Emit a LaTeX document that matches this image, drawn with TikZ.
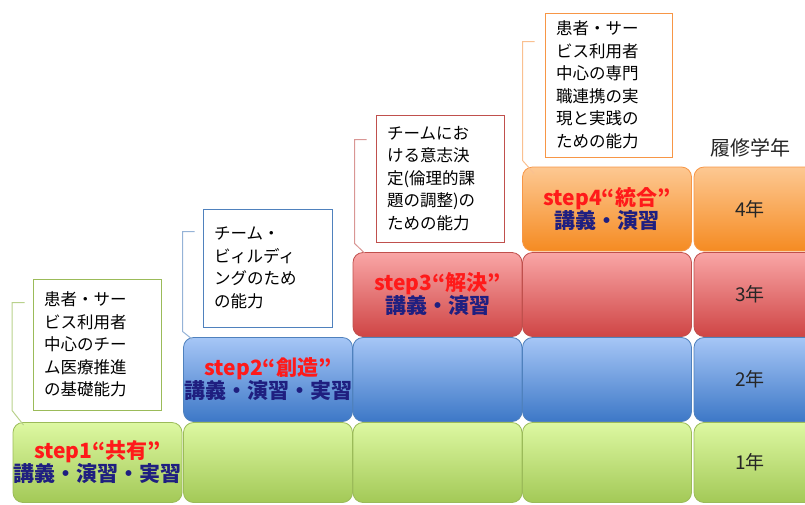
\documentclass[tikz,border=0pt]{standalone}
\usepackage{fontspec}
\setmainfont{Noto Sans CJK JP}
\usetikzlibrary{calc}
\definecolor{gtop}{HTML}{DDF8A2}
\definecolor{gbot}{HTML}{A3C957}
\definecolor{gbrd}{HTML}{9BBB59}
\definecolor{gline}{HTML}{B9D18C}
\definecolor{btop}{HTML}{A6C6F6}
\definecolor{bbot}{HTML}{3D78C7}
\definecolor{bbrd}{HTML}{4F81BD}
\definecolor{bline}{HTML}{95B3D7}
\definecolor{rtop}{HTML}{F9A6A6}
\definecolor{rbot}{HTML}{CF4545}
\definecolor{rbrd}{HTML}{C0504D}
\definecolor{rline}{HTML}{D99694}
\definecolor{otop}{HTML}{FDC892}
\definecolor{obot}{HTML}{F58B22}
\definecolor{obrd}{HTML}{F79646}
\definecolor{oline}{HTML}{FAC090}
\definecolor{stepred}{HTML}{FF1A1A}
\definecolor{navy}{HTML}{1F1F80}
\newcommand{\steptxt}[2]{{\color{stepred}#1}\\{\color{navy}#2}}
\begin{document}
\begin{tikzpicture}[x=1pt,y=-1pt,
  cell/.style={rounded corners=10pt, line width=0.8pt, minimum width=169pt, minimum height=84pt, inner sep=0pt, align=center,
    font=\fontsize{21}{23}\selectfont\bfseries},
  gcell/.style={cell, draw=gbrd, top color=gtop, bottom color=gbot},
  bcell/.style={cell, draw=bbrd, top color=btop, bottom color=bbot},
  rcell/.style={cell, draw=rbrd, top color=rtop, bottom color=rbot},
  ocell/.style={cell, draw=obrd, top color=otop, bottom color=obot},
  lastcol/.style={minimum width=130pt},
  firstrow/.style={minimum height=80pt},
  callout/.style={fill=white, line width=0.9pt, inner xsep=11pt, inner ysep=0pt, text width=106pt, align=left,
    font=\fontsize{16.5}{22.5}\selectfont},
  conn/.style={line width=1pt},
  yearlbl/.style={font=\fontsize{19}{22}\selectfont, text=black!85},
]
\useasboundingbox (0,0) rectangle (805,504);
\clip (0,0) rectangle (805,504);
% row 1 (green)
\node[gcell, firstrow] (c1r1) at (97.5,462.5) {\steptxt{step1“共有”}{講義・演習・実習}};
\node[gcell, firstrow] (c2r1) at (268,462.5) {};
\node[gcell, firstrow] (c3r1) at (437.5,462.5) {};
\node[gcell, firstrow] (c4r1) at (607,462.5) {};
\node[gcell, firstrow, lastcol] (c5r1) at (759,462.5) {};
% row 2 (blue)
\node[bcell] (c2r2) at (268,379.5) {\steptxt{step2“創造”}{講義・演習・実習}};
\node[bcell] (c3r2) at (437.5,379.5) {};
\node[bcell] (c4r2) at (607,379.5) {};
\node[bcell, lastcol] (c5r2) at (759,379.5) {};
% row 3 (red)
\node[rcell] (c3r3) at (437.5,294.5) {\steptxt{step3“解決”}{講義・演習}};
\node[rcell] (c4r3) at (607,294.5) {};
\node[rcell, lastcol] (c5r3) at (759,294.5) {};
% row 4 (orange)
\node[ocell] (c4r4) at (607,209) {\steptxt{step4“統合”}{講義・演習}};
\node[ocell, lastcol] (c5r4) at (759,209) {};
% year labels
\node[yearlbl] (y1) at (750,462.5) {1年};
\node[yearlbl] (y2) at (750,379.5) {2年};
\node[yearlbl] (y3) at (750,294.5) {3年};
\node[yearlbl] (y4) at (750,209) {4年};
\node[font=\fontsize{20}{22}\selectfont, text=black!85] (hdr) at (750,148) {履修学年};
% callouts
\node[callout, draw=gbrd, minimum height=131pt] (t1) at (97,344.5)
  {患者・サー\\ビス利用者\\中心のチー\\ム医療推進\\の基礎能力};
\node[callout, draw=bbrd, minimum height=118pt, text width=107pt] (t2) at (267.5,268)
  {チーム・\\ビィルディ\\ングのため\\の能力};
\node[callout, draw=rbrd, minimum height=127pt] (t3) at (440,178.5)
  {チームにお\\ける意志決\\定(倫理的課\\題の調整)の\\ための能力};
\node[callout, draw=obrd, minimum height=144pt, text width=105pt] (t4) at (608.5,85)
  {患者・サー\\ビス利用者\\中心の専門\\職連携の実\\現と実践の\\ための能力};
% connectors
\draw[conn, gline] ($(t1.north west)+(-8,24)$) -- ($(t1.north west)+(-20.5,24)$)
  -- ($(t1.south west)+(-20.5,0)$) -- ($(c1r1.north west)+(11,3)$);
\draw[conn, bline] ($(t2.north west)+(-8,23)$) -- ($(t2.north west)+(-20,23)$)
  -- ($(t2.south west)+(-20,4)$) -- ($(c2r2.north west)+(9,2)$);
\draw[conn, rline] ($(t3.north west)+(-9,25)$) -- ($(t3.north west)+(-21,25)$)
  -- ($(t3.south west)+(-21,1)$) -- ($(c3r3.north west)+(12,1)$);
\draw[conn, oline] ($(t4.north west)+(-10,29)$) -- ($(t4.north west)+(-22,29)$)
  -- ($(t4.south west)+(-22,3)$) -- ($(c4r4.north west)+(12,7)$);
\end{tikzpicture}
\end{document}
